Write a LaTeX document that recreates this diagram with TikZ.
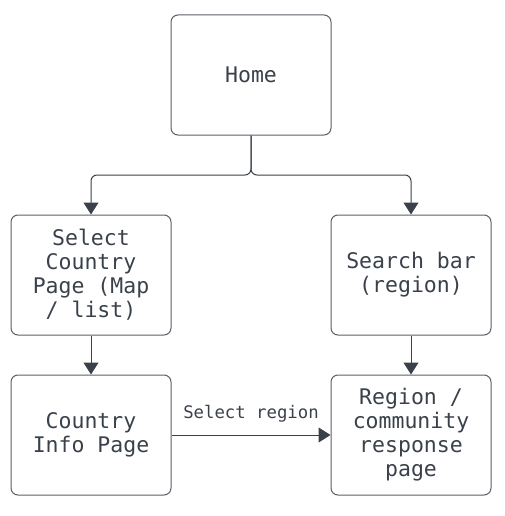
\documentclass[tikz,border=0pt]{standalone}
\usepackage{fontspec}
\newfontfamily\diagmono{DejaVu Sans Mono}
\usetikzlibrary{arrows.meta}
\definecolor{ink}{HTML}{3A414A}
\definecolor{edge}{HTML}{5A6068}
\tikzset{
  box/.style={draw=edge, line width=1pt, rounded corners=7pt, minimum width=160pt, minimum height=120pt, inner sep=0pt, align=center, text=ink, font=\diagmono\fontsize{21.5}{24}\selectfont},
  conn/.style={draw=ink, line width=1pt, -{Triangle[width=15pt,length=12pt]}},
  lbl/.style={text=ink, font=\diagmono\fontsize{17.3}{20}\selectfont, inner sep=0pt}
}
\begin{document}
\begin{tikzpicture}[x=1pt,y=-1pt]
\useasboundingbox (0,0) rectangle (505,516);
\node[box] (home) at (251,75) {Home};
\node[box] (sel) at (91,275) {Select\\Country\\Page (Map\\/ list)};
\node[box] (search) at (411,275) {Search bar\\(region)};
\node[box] (info) at (91,435) {Country\\Info Page};
\node[box] (region) at (411,435) {Region /\\community\\response\\page};
\coordinate (j) at (251,175);
\draw[conn, rounded corners=6pt] (home.south) -- (j) -| (sel.north);
\draw[conn, rounded corners=6pt] (home.south) -- (j) -| (search.north);
\draw[conn] (sel.south) -- (info.north);
\draw[conn] (search.south) -- (region.north);
\draw[conn] (info.east) -- (region.west) node[lbl, midway, above=12pt] (sr) {Select region};
\end{tikzpicture}
\end{document}
